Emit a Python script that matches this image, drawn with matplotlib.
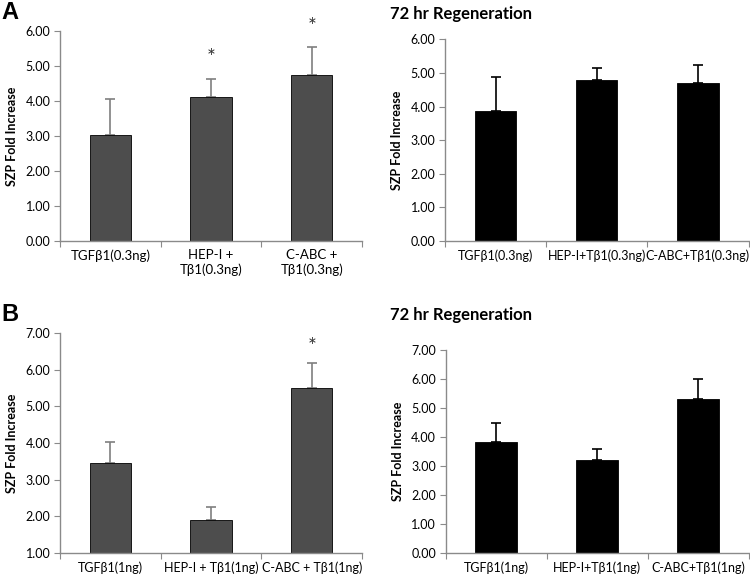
import numpy as np
import matplotlib.pyplot as plt

plt.rcParams['font.family'] = ['Lato', 'DejaVu Sans']

# Panel A (0.3 ng)
a_left_labels = ['TGFβ1(0.3ng)', 'HEP-I +\nTβ1(0.3ng)', 'C-ABC +\nTβ1(0.3ng)']
a_left_vals = [3.03, 4.12, 4.74]
a_left_err = [1.03, 0.52, 0.79]
a_left_star = [False, True, True]

a_right_labels = ['TGFβ1(0.3ng)', 'HEP-I+Tβ1(0.3ng)', 'C-ABC+Tβ1(0.3ng)']
a_right_vals = [3.86, 4.80, 4.70]
a_right_err = [1.01, 0.36, 0.55]

# Panel B (1 ng)
b_left_labels = ['TGFβ1(1ng)', 'HEP-I + Tβ1(1ng)', 'C-ABC + Tβ1(1ng)']
b_left_vals = [3.44, 1.89, 5.51]
b_left_err = [0.59, 0.35, 0.69]
b_left_star = [False, False, True]

b_right_labels = ['TGFβ1(1ng)', 'HEP-I+Tβ1(1ng)', 'C-ABC+Tβ1(1ng)']
b_right_vals = [3.83, 3.20, 5.32]
b_right_err = [0.64, 0.39, 0.68]

fig = plt.figure(figsize=(7.5, 5.77), dpi=100)

spine_col = '#8a8a8a'


def bar_panel(rect, labels, vals, errs, ylim, color, ecolor, stars=None, star_off=15, lab_fs=9):
    ax = fig.add_axes(rect)
    x = np.arange(len(vals)) + 0.5
    base = ylim[0]
    heights = np.array(vals) - base
    ax.bar(x, heights, width=0.41, bottom=base, color=color, edgecolor='black', linewidth=0.6, zorder=2)
    ax.errorbar(x, vals, yerr=[np.zeros(len(errs)), errs], fmt='none',
                ecolor=ecolor, elinewidth=1.2, capsize=3.5, capthick=1.2, zorder=1)
    if stars is not None:
        for xi, v, e, s in zip(x, vals, errs, stars):
            if s:
                ax.annotate('*', (xi, v + e), xytext=(0, star_off), textcoords='offset points',
                            ha='center', va='center', fontsize=15, color='#333333',
                            annotation_clip=False)
    ax.set_xlim(0, len(vals))
    ax.set_ylim(*ylim)
    ax.set_yticks(np.arange(ylim[0], ylim[1] + 0.01, 1.0))
    ax.set_yticklabels(['%.2f' % t for t in ax.get_yticks()], fontsize=9)
    ax.set_xticks(np.arange(len(vals) + 1))
    ax.set_xticklabels([])
    ax.set_xticks(x, minor=True)
    ax.set_xticklabels(labels, minor=True, fontsize=lab_fs)
    ax.tick_params(axis='x', which='minor', length=0, pad=6)
    ax.tick_params(axis='x', which='major', length=4, color=spine_col, direction='out')
    ax.tick_params(axis='y', length=4, color=spine_col, direction='out', pad=3)
    for sp in ['top', 'right']:
        ax.spines[sp].set_visible(False)
    for sp in ['left', 'bottom']:
        ax.spines[sp].set_color(spine_col)
        ax.spines[sp].set_linewidth(1.0)
    ax.set_ylabel('SZP Fold Increase', fontsize=9, fontweight='bold', labelpad=5)
    return ax


ax1 = bar_panel([0.08, 0.5823, 0.4027, 0.364], a_left_labels, a_left_vals, a_left_err,
                (0, 6), '#4d4d4d', '#7f7f7f', stars=a_left_star, star_off=15, lab_fs=9.5)
ax2 = bar_panel([0.5933, 0.5823, 0.4047, 0.3496], a_right_labels, a_right_vals, a_right_err,
                (0, 6), 'black', 'black', lab_fs=9)
ax3 = bar_panel([0.08, 0.0421, 0.4027, 0.3803], b_left_labels, b_left_vals, b_left_err,
                (1, 7), '#4d4d4d', '#7f7f7f', stars=b_left_star, star_off=11, lab_fs=9)
ax4 = bar_panel([0.5943, 0.0421, 0.4037, 0.3513], b_right_labels, b_right_vals, b_right_err,
                (0, 7), 'black', 'black', lab_fs=9)

fig.text(0.52, 0.99, '72 hr Regeneration', fontsize=12, fontweight='bold', va='top', ha='left')
fig.text(0.52, 0.468, '72 hr Regeneration', fontsize=12, fontweight='bold', va='top', ha='left')

fig.text(0.002, 0.999, 'A', fontsize=17, fontweight='bold', va='top', ha='left', family='Liberation Sans')
fig.text(0.002, 0.475, 'B', fontsize=17, fontweight='bold', va='top', ha='left', family='Liberation Sans')

fig.savefig('out.png', dpi=100)
